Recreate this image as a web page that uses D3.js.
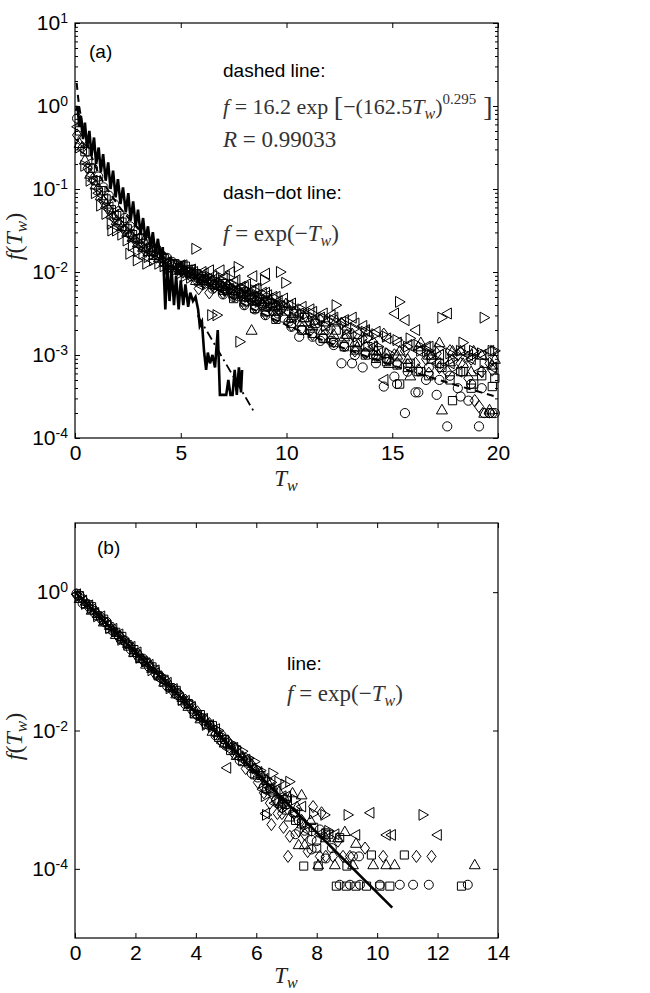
<!DOCTYPE html>
<html>
<head>
<meta charset="utf-8">
<script src="https://cdn.jsdelivr.net/npm/d3@7"></script>
<style>
body{margin:0;background:#fff;}
svg{display:block;}
</style>
</head>
<body>
<script>
// ---------- panel (a) : log10 f(Tw) ----------
var tA = [0.1,0.35,0.6,0.85,1.1,1.35,1.6,1.85,2.1,2.35,2.6,2.85,3.1,3.35,3.6,3.85,4.1,4.35,4.6,4.85,
  5.1,5.35,5.6,5.85,6.1,6.35,6.6,6.85,7.1,7.35,7.6,7.85,8.1,8.35,8.6,8.85,9.1,9.35,9.6,9.85,
  10.1,10.6,11.1,11.6,12.1,12.6,13.1,13.6,14.1,14.6,15.1,15.6,16.1,16.6,17.1,17.6,18.1,18.6,19.1,19.6];
var tB = [0.22,0.47,0.72,0.97,1.22,1.47,1.72,1.97,2.22,2.47,2.72,2.97,3.22,3.47,3.72,3.97,4.22,4.47,4.72,4.97,
  5.22,5.47,5.72,5.97,6.22,6.47,6.72,6.97,7.22,7.47,7.72,7.97,8.22,8.47,8.72,8.97,9.22,9.47,9.72,9.97,
  10.35,10.85,11.35,11.85,12.35,12.85,13.35,13.85,14.35,14.85,15.35,15.85,16.35,16.85,17.35,17.85,18.35,18.85,19.35,19.85];
var tC = [5.0,5.5,6.0,6.5,7.0,7.5,8.0,8.5,9.0,9.5,
  10.23,10.73,11.23,11.73,12.23,12.73,13.23,13.73,14.23,14.73,15.23,15.73,16.23,16.73,17.23,17.73,18.23,18.73,19.23,19.73];

var circA = [-0.15,-0.4,-0.55,-0.75,-0.85,-0.98,-1.08,-1.18,-1.3,-1.35,
  -1.45,-1.5,-1.6,-1.62,-1.7,-1.72,-1.8,-1.83,-1.88,-1.92,
  -1.97,-2.0,-2.02,-2.08,-2.1,-2.12,-2.15,-2.17,-2.2,-2.22,
  -2.26,-2.27,-2.3,-2.33,-2.35,-2.4,-2.42,-2.47,-2.5,-2.55,
  -2.6,-2.78,-2.7,-2.83,-2.83,-3.1,-3.1,-3.15,-3.0,-3.38,
  -3.26,-3.7,-3.45,-3.3,-3.48,-3.86,-3.4,-3.55,-3.86,-3.7];
var sqA = [-0.3,-0.55,-0.75,-0.9,-1.02,-1.12,-1.25,-1.32,-1.4,-1.48,
  -1.55,-1.6,-1.66,-1.72,-1.75,-1.8,-1.84,-1.9,-1.9,-1.95,
  -1.93,-1.97,-2.02,-2.05,-2.1,-2.12,-2.16,-2.14,-2.2,-2.22,
  -2.25,-2.24,-2.28,-2.3,-2.33,-2.36,-2.38,-2.42,-2.4,-2.47,
  -2.5,-2.55,-2.62,-2.65,-2.7,-2.75,-2.85,-2.9,-2.95,-3.05,
  -3.35,-3.1,-3.2,-3.05,-3.15,-3.55,-3.2,-3.35,-3.1,-3.28];
var diaA = [-0.35,-0.5,-0.75,-0.88,-1.0,-1.15,-1.25,-1.35,-1.42,-1.5,
  -1.55,-1.62,-1.68,-1.75,-1.78,-1.82,-1.86,-1.9,-1.93,-1.97,
  -2.0,-2.02,-2.05,-2.2,-2.12,-2.25,-2.18,-2.15,-2.22,-2.2,
  -2.25,-2.28,-2.25,-2.3,-2.33,-2.38,-2.35,-2.4,-2.45,-2.42,
  -2.48,-2.52,-2.6,-2.58,-2.68,-2.62,-2.75,-2.8,-2.85,-2.75,
  -3.0,-2.95,-3.1,-3.05,-2.98,-3.2,-3.0,-3.28,-3.62,-3.1];
var upA = [-0.45,-0.65,-0.82,-0.95,-1.08,-1.18,-1.3,-1.38,-1.45,-1.52,
  -1.58,-1.65,-1.7,-1.75,-1.8,-1.83,-1.88,-1.92,-1.95,-1.98,
  -2.0,-2.02,-2.1,-2.05,-2.08,-2.1,-2.13,-2.17,-2.15,-2.2,
  -2.23,-2.25,-2.27,-2.3,-2.32,-2.35,-2.33,-2.4,-2.42,-2.38,
  -2.48,-2.55,-2.58,-2.6,-2.58,-2.75,-2.9,-2.72,-3.0,-3.1,
  -2.95,-3.25,-2.85,-3.0,-3.66,-2.95,-3.1,-2.95,-3.7,-3.05];
var leftA = [-0.25,-0.52,-0.7,-0.9,-1.05,-1.12,-1.22,-1.32,-1.4,-1.47,
  -1.55,-1.6,-1.65,-1.7,-1.75,-1.78,-1.84,-1.88,-1.92,-1.95,
  -1.92,-1.98,-2.0,-2.15,-2.02,-1.98,-2.08,-1.98,-2.05,-2.0,
  -2.1,-2.18,-2.15,-2.22,-2.2,-2.25,-2.28,-2.3,-2.35,-2.32,
  -2.4,-2.5,-2.45,-2.55,-2.52,-2.6,-2.55,-2.65,-2.9,-3.3,
  -2.5,-2.58,-2.7,-2.9,-3.1,-2.5,-3.2,-3.0,-3.2,-2.95];
var rightA = [-0.5,-0.72,-0.9,-1.05,-1.2,-1.3,-1.42,-1.5,-1.55,-1.62,
  -1.68,-1.75,-1.78,-1.82,-1.86,-1.9,-1.93,-1.96,-1.98,-2.02,
  -2.05,-2.07,-1.72,-2.1,-2.15,-2.52,-2.52,-2.2,-2.22,-2.25,
  -1.94,-2.28,-2.3,-2.32,-2.36,-2.1,-2.4,-2.38,-2.0,-2.13,
  -2.55,-2.52,-2.6,-2.65,-2.4,-2.7,-2.78,-2.8,-2.9,-2.98,
  -2.36,-2.8,-2.95,-3.0,-2.55,-3.05,-2.85,-2.95,-2.55,-2.95];
// second pass of points for Tw >= 5 (on tC), the lower part of the cloud
var circC = [-1.98,-2.05,-2.12,-2.2,-2.27,-2.3,-2.4,-2.45,-2.52,-2.55,-2.66,-2.7,-2.78,-2.8,-2.88,
  -2.9,-3.0,-2.98,-3.1,-3.05,-3.35,-3.2,-3.45,-3.15,-3.3,-3.25,-3.5,-3.35,-3.4,-3.7];
var sqC = [-1.92,-2.0,-2.08,-2.15,-2.22,-2.32,-2.36,-2.44,-2.48,-2.57,-2.62,-2.7,-2.74,-2.8,-2.85,
  -2.9,-2.94,-3.0,-3.04,-3.08,-3.12,-3.15,-3.2,-3.25,-3.1,-3.3,-3.2,-3.4,-3.25,-3.38];
var diaC = [-1.95,-2.02,-2.1,-2.17,-2.25,-2.28,-2.38,-2.42,-2.5,-2.55,-2.64,-2.68,-2.75,-2.78,-2.84,
  -2.88,-2.95,-2.98,-3.02,-3.05,-3.1,-3.12,-3.18,-3.22,-3.15,-2.95,-3.1,-3.05,-3.2,-3.18];
var upC = [-1.97,-2.02,-2.07,-2.1,-2.17,-2.22,-2.3,-2.35,-2.42,-2.47,-2.55,-2.6,-2.65,-2.7,-2.75,
  -2.78,-2.85,-2.88,-2.95,-2.98,-3.0,-3.05,-2.9,-3.0,-2.85,-3.08,-2.95,-3.2,-3.0,-3.12];
var leftC = [-1.92,-1.97,-2.0,-2.05,-2.08,-2.12,-2.18,-2.2,-2.25,-2.3,-2.38,-2.42,-2.48,-2.5,-2.55,
  -2.58,-2.62,-2.7,-2.72,-2.8,-2.85,-2.88,-2.95,-2.9,-3.0,-3.1,-2.95,-3.05,-3.0,-3.15];
var rightC = [-1.94,-2.0,-2.03,-2.08,-2.1,-2.15,-2.2,-2.22,-2.28,-2.32,-2.4,-2.45,-2.5,-2.55,-2.58,
  -2.62,-2.68,-2.72,-2.75,-2.78,-2.82,-2.9,-2.88,-2.95,-2.92,-2.98,-2.95,-3.02,-2.98,-2.95];
// stray points [marker, Tw, log10 f]
var extraA = [["right",7.8,-2.84],["up",8.35,-2.7],["circle",19.35,-3.7],["circle",19.6,-3.7],
  ["circle",19.85,-3.7],["up",19.6,-3.66],["diamond",18.9,-3.55],["left",9.0,-2.02],["left",8.4,-2.05],
  ["right",1.75,-1.5],["right",2.6,-1.78],["right",2.95,-1.86],["right",3.4,-1.9]];

// jagged solid curve (Tw, log10 f)
var solidT = [0.05,0.12,0.2,0.28,0.38,0.47,0.57,0.68,0.78,0.9,1.0,1.12,1.22,1.33,1.45,1.57,1.68,1.8,1.92,2.03,
  2.15,2.27,2.4,2.52,2.63,2.75,2.87,2.98,3.1,3.22,3.33,3.45,3.57,3.68,3.8,3.92,4.05,4.15,4.27,4.37,
  4.47,4.57,4.68,4.78,4.9,5.0,5.12,5.22,5.35,5.45,5.58,5.7,5.82,5.9,6.0,6.1,6.2,6.28,6.38,6.5,
  6.62,6.75,6.85,7.0,7.15,7.25,7.35,7.45,7.55,7.65,7.75,7.85,7.9];
var solidV = [-0.05,0.0,-0.25,-0.12,-0.4,-0.2,-0.5,-0.3,-0.6,-0.38,-0.7,-0.5,-0.8,-0.58,-0.9,-0.68,-1.0,-0.78,-1.1,-0.88,
  -1.18,-0.98,-1.28,-1.05,-1.38,-1.15,-1.45,-1.25,-1.55,-1.35,-1.62,-1.45,-1.7,-1.52,-1.78,-1.6,-1.85,-1.7,-2.45,-1.9,
  -2.35,-1.98,-2.4,-2.05,-2.45,-2.1,-2.4,-2.15,-2.42,-2.25,-2.35,-2.3,-2.45,-2.65,-2.6,-2.95,-3.18,-2.97,-3.1,-3.0,
  -3.15,-2.7,-3.48,-3.48,-3.48,-3.3,-3.48,-3.48,-3.18,-3.48,-3.15,-3.45,-3.18];

// dashed fit curve and dash-dot exp(-Tw) line
var dashT = [0.08,0.15,0.3,0.5,1,1.5,2,3,5,7,10,14,17,20];
var dashF = [1.9,1.25,0.70,0.42,0.18,0.103,0.066,0.033,0.0118,0.0056,0.0023,0.00092,0.00052,0.00031];
var dashDotT = [5.8,8.45];
var dashDotF = [3.0e-3,2.1e-4];

// ---------- panel (b) ----------
var tBandA = [0.05,0.25,0.45,0.65,0.85,1.05,1.25,1.45,1.65,1.85,2.05,2.25,2.45,2.65,2.85,3.05,3.25,3.45,3.65,3.85,
  4.05,4.25,4.45,4.65,4.85,5.05,5.25,5.45,5.65,5.85,6.05,6.25,6.45,6.65,6.85];
var tBandB = [0.15,0.35,0.55,0.75,0.95,1.15,1.35,1.55,1.75,1.95,2.15,2.35,2.55,2.75,2.95,3.15,3.35,3.55,3.75,3.95,
  4.15,4.35,4.55,4.75,4.95,5.15,5.35,5.55,5.75,5.95,6.15,6.35,6.55,6.75,6.95];
var circB = [-0.02,-0.16,-0.18,-0.30,-0.36,-0.43,-0.56,-0.63,-0.70,-0.83,-0.88,-0.96,-1.08,-1.12,-1.24,-1.36,-1.39,-1.49,-1.62,-1.63,
  -1.78,-1.82,-1.93,-2.07,-2.07,-2.22,-2.23,-2.43,-2.43,-2.62,-2.68,-2.81,-2.84,-3.01,-3.12];
var sqB = [-0.05,-0.17,-0.21,-0.34,-0.39,-0.53,-0.58,-0.64,-0.78,-0.83,-0.96,-1.01,-1.08,-1.21,-1.26,-1.38,-1.42,-1.57,-1.61,-1.76,
  -1.77,-1.91,-1.93,-2.10,-2.13,-2.29,-2.28,-2.45,-2.47,-2.64,-2.65,-2.84,-2.89,-3.03,-3.07];
var diaB = [-0.04,-0.09,-0.22,-0.26,-0.39,-0.45,-0.52,-0.66,-0.71,-0.78,-0.92,-0.99,-1.04,-1.18,-1.22,-1.30,-1.44,-1.47,-1.56,-1.70,
  -1.73,-1.88,-1.90,-2.05,-2.16,-2.15,-2.33,-2.35,-2.55,-2.50,-2.75,-2.90,-3.05,-3.00,-3.20];
var upB = [-0.09,-0.13,-0.26,-0.31,-0.43,-0.48,-0.61,-0.66,-0.74,-0.87,-0.91,-1.04,-1.10,-1.17,-1.30,-1.35,-1.47,-1.52,-1.65,-1.69,
  -1.83,-1.86,-2.01,-2.03,-2.18,-2.20,-2.36,-2.37,-2.45,-2.55,-2.62,-2.72,-2.86,-2.88,-2.98];
var leftB = [-0.03,-0.12,-0.19,-0.30,-0.35,-0.48,-0.53,-0.61,-0.74,-0.79,-0.87,-1.00,-1.05,-1.13,-1.27,-1.31,-1.40,-1.53,-1.57,-1.66,
  -1.80,-1.83,-1.92,-1.98,-2.18,-2.26,-2.25,-2.40,-2.42,-2.55,-2.60,-2.70,-2.83,-2.85,-2.95];
var rightB = [-0.06,-0.17,-0.23,-0.35,-0.40,-0.52,-0.57,-0.69,-0.75,-0.86,-0.95,-1.00,-1.13,-1.18,-1.29,-1.39,-1.43,-1.56,-1.60,-1.74,
  -1.79,-1.92,-1.95,-2.00,-2.10,-2.18,-2.25,-2.30,-2.40,-2.45,-2.58,-2.70,-2.62,-2.74,-2.78];
// tail of panel (b) [marker, Tw, log10 f]
var tailB = [
  ["right",7.11,-2.74],["right",7.3,-3.0],["right",6.34,-3.22],["right",8.27,-3.22],["right",9.04,-3.22],["right",11.52,-3.22],["right",7.9,-3.2],
  ["right",6.0,-2.55],["right",6.5,-2.75],["right",7.0,-3.1],["right",7.6,-3.35],["right",8.4,-3.45],["right",6.3,-2.95],
  ["left",5.02,-2.54],["left",6.3,-3.2],["left",7.0,-2.95],["left",7.5,-3.1],["left",9.76,-3.19],["left",9.29,-3.51],["left",10.3,-3.51],
  ["left",10.47,-3.51],["left",11.99,-3.51],["left",8.1,-3.5],["left",8.3,-3.52],
  ["left",6.6,-3.05],["left",7.3,-3.2],["left",7.7,-3.45],["left",8.6,-3.5],["left",6.2,-2.85],
  ["up",7.2,-2.9],["up",7.5,-2.93],["up",7.6,-3.65],["up",8.05,-3.94],["up",8.93,-3.46],["up",9.3,-3.63],["up",9.87,-3.94],
  ["up",10.3,-3.94],["up",10.58,-3.94],["up",13.23,-3.94],["up",8.3,-3.55],["up",9.2,-3.94],["up",7.35,-3.1],
  ["up",6.8,-3.05],["up",7.1,-3.25],["up",7.8,-3.3],["up",8.7,-3.55],["up",7.4,-3.65],["up",8.6,-3.94],
  ["diamond",6.5,-3.36],["diamond",7.11,-3.53],["diamond",7.05,-3.82],["diamond",7.88,-3.1],["diamond",8.16,-3.19],["diamond",8.1,-3.82],
  ["diamond",8.3,-3.82],["diamond",8.54,-3.82],["diamond",8.87,-3.82],["diamond",9.1,-3.82],["diamond",10.2,-3.82],["diamond",11.3,-3.82],
  ["diamond",11.8,-3.82],["diamond",7.4,-3.45],["diamond",7.6,-3.5],
  ["diamond",6.7,-3.2],["diamond",7.25,-3.2],["diamond",7.5,-3.3],["diamond",7.7,-3.75],["diamond",8.7,-3.6],["diamond",9.6,-3.7],["diamond",6.9,-3.4],
  ["square",7.57,-3.96],["square",8.05,-3.96],["square",8.3,-3.48],["square",8.76,-3.55],["square",9.81,-3.8],["square",10.9,-3.8],
  ["square",8.65,-4.25],["square",8.98,-4.25],["square",9.3,-4.25],["square",9.65,-4.25],["square",10.09,-4.25],["square",10.42,-4.25],
  ["square",12.79,-4.25],["square",9.0,-3.96],["square",7.3,-3.3],
  ["square",7.0,-3.15],["square",7.5,-3.35],["square",7.9,-3.4],["square",8.4,-3.5],["square",8.0,-3.7],
  ["circle",7.22,-3.19],["circle",7.83,-3.58],["circle",7.83,-3.72],["circle",8.1,-3.43],["circle",8.3,-3.85],["circle",8.76,-4.23],
  ["circle",9.1,-4.23],["circle",9.43,-4.23],["circle",10.09,-4.23],["circle",10.75,-4.23],["circle",11.19,-4.23],["circle",11.71,-4.23],
  ["circle",13.0,-4.23],["circle",7.0,-3.0],["circle",9.2,-3.82],["circle",9.4,-3.82],
  ["circle",6.9,-3.05],["circle",7.4,-3.3],["circle",7.6,-3.45],["circle",8.0,-3.6],["circle",8.5,-3.7],["circle",7.3,-3.5]];
var lineBT = [0,10.5];
var lineBF = [1,2.75e-5];

var W = 650, H = 993;
var svg = d3.select("body").append("svg").attr("width", W).attr("height", H);
svg.append("rect").attr("width", W).attr("height", H).attr("fill", "#fff");

// marker outlines centred on 0,0
function shape(kind, s) {
  if (kind == "circle") return "M" + s + ",0A" + s + "," + s + " 0 1,1 " + (-s) + ",0A" + s + "," + s + " 0 1,1 " + s + ",0Z";
  if (kind == "square") { var q = s * 0.9; return "M" + (-q) + "," + (-q) + "H" + q + "V" + q + "H" + (-q) + "Z"; }
  if (kind == "diamond") return "M0," + (-s * 1.35) + "L" + s + ",0L0," + (s * 1.35) + "L" + (-s) + ",0Z";
  var a = s * 1.2, b = s * 0.9;
  if (kind == "up") return "M0," + (-a) + "L" + a + "," + b + "L" + (-a) + "," + b + "Z";
  if (kind == "left") return "M" + (-a) + ",0L" + b + "," + (-a) + "L" + b + "," + a + "Z";
  return "M" + a + ",0L" + (-b) + "," + (-a) + "L" + (-b) + "," + a + "Z";
}

// "10" with a small raised exponent
function supLabels(sel) {
  sel.selectAll(".tick text").each(function(d) {
    var t = d3.select(this), e = Math.round(Math.log10(d));
    t.append("tspan").text("10");
    t.append("tspan").attr("dy", "-0.5em").attr("font-size", "14px").text(e < 0 ? "-" + (-e) : e);
  });
}

function drawPanel(p) {
  var x = d3.scaleLinear().domain(p.xDom).range([75, 498]);
  var y = d3.scaleLog().domain(p.yDom).range([p.bottom, p.top]);
  var g = svg.append("g");

  // scatter
  p.series.forEach(function(s) {
    g.append("g").selectAll("path").data(d3.zip(s.t, s.v)).join("path")
      .attr("d", shape(s.kind, p.ms))
      .attr("transform", function(d) { return "translate(" + x(d[0]) + "," + y(Math.pow(10, d[1])) + ")"; })
      .attr("fill", "none").attr("stroke", "#000").attr("stroke-width", 1);
  });
  g.append("g").selectAll("path").data(p.extra).join("path")
    .attr("d", function(d) { return shape(d[0], p.ms); })
    .attr("transform", function(d) { return "translate(" + x(d[1]) + "," + y(Math.pow(10, d[2])) + ")"; })
    .attr("fill", "none").attr("stroke", "#000").attr("stroke-width", 1);

  // lines
  p.lines.forEach(function(l) {
    var ln = d3.line().x(function(d) { return x(d[0]); }).y(function(d) { return y(d[1]); });
    if (l.curve) ln.curve(l.curve);
    g.append("path").datum(d3.zip(l.t, l.f)).attr("d", ln)
      .attr("fill", "none").attr("stroke", "#000").attr("stroke-width", l.w)
      .attr("stroke-dasharray", l.dash || null).attr("stroke-linejoin", "miter");
  });

  // axes, ticks inside on all four sides
  var ax = svg.append("g").attr("font-family", "'Liberation Sans', Arial, sans-serif");
  var xb = ax.append("g").attr("transform", "translate(0," + p.bottom + ")")
    .call(d3.axisBottom(x).tickValues(p.xt).tickSizeInner(-5).tickSizeOuter(0).tickPadding(7));
  ax.append("g").attr("transform", "translate(0," + p.top + ")")
    .call(d3.axisTop(x).tickValues(p.xt).tickSizeInner(-5).tickSizeOuter(0).tickFormat(""));
  var yl = ax.append("g").attr("transform", "translate(75,0)")
    .call(d3.axisLeft(y).tickValues(p.yt).tickSizeInner(-5).tickSizeOuter(0).tickPadding(7).tickFormat(function() { return ""; }));
  ax.append("g").attr("transform", "translate(498,0)")
    .call(d3.axisRight(y).tickValues(p.yt).tickSizeInner(-5).tickSizeOuter(0).tickFormat(""));
  if (p.minor) {
    ax.append("g").attr("transform", "translate(75,0)")
      .call(d3.axisLeft(y).tickValues(p.minor).tickSizeInner(-3).tickSizeOuter(0).tickFormat(""));
    ax.append("g").attr("transform", "translate(498,0)")
      .call(d3.axisRight(y).tickValues(p.minor).tickSizeInner(-3).tickSizeOuter(0).tickFormat(""));
  }
  supLabels(yl);
  ax.selectAll(".domain").remove();
  ax.selectAll(".tick line").attr("stroke", "#000");
  ax.selectAll(".tick text").attr("font-size", "21px").attr("fill", "#000");
  xb.selectAll(".tick text").attr("dy", "0.72em");
  ax.append("rect").attr("x", 75).attr("y", p.top).attr("width", 423).attr("height", p.bottom - p.top)
    .attr("fill", "none").attr("stroke", "#000").attr("stroke-width", 1.2);

  // axis titles
  var serif = "'Liberation Serif', 'Times New Roman', serif";
  var xt = svg.append("text").attr("x", 286).attr("y", p.bottom + p.xlab).attr("text-anchor", "middle")
    .attr("font-family", serif).attr("font-size", "23px").attr("fill", "#222");
  xt.append("tspan").attr("font-style", "italic").text("T");
  xt.append("tspan").attr("font-style", "italic").attr("font-size", "16px").attr("dy", 5).text("w");
  var yt = svg.append("text").attr("transform", "translate(22," + ((p.top + p.bottom) / 2 + 6) + ") rotate(-90)")
    .attr("text-anchor", "middle").attr("font-family", serif).attr("font-size", "24px").attr("fill", "#222");
  yt.append("tspan").attr("font-style", "italic").text("f");
  yt.append("tspan").text("(");
  yt.append("tspan").attr("font-style", "italic").text("T");
  yt.append("tspan").attr("font-style", "italic").attr("font-size", "17px").attr("dy", 5).text("w");
  yt.append("tspan").attr("dy", -5).text(")");
}

function decades(lo, hi) { var a = []; for (var e = lo; e <= hi; e++) a.push(Math.pow(10, e)); return a; }
var minorA = [];
decades(-4, 0).forEach(function(d) { [2,3,4,5,6,7,8,9].forEach(function(m) { minorA.push(d * m); }); });

drawPanel({
  xDom: [0, 20], yDom: [1e-4, 1e1], top: 23, bottom: 438, ms: 4.6, xlab: 48,
  xt: [0, 5, 10, 15, 20], yt: decades(-4, 1), minor: minorA,
  series: [
    {kind: "circle", t: tA, v: circA}, {kind: "square", t: tB, v: sqA}, {kind: "diamond", t: tA, v: diaA},
    {kind: "up", t: tB, v: upA}, {kind: "left", t: tA, v: leftA}, {kind: "right", t: tB, v: rightA},
    {kind: "circle", t: tC, v: circC}, {kind: "square", t: tC, v: sqC}, {kind: "diamond", t: tC, v: diaC},
    {kind: "up", t: tC, v: upC}, {kind: "left", t: tC, v: leftC}, {kind: "right", t: tC, v: rightC}],
  extra: extraA,
  lines: [
    {t: solidT, f: solidV.map(function(v) { return Math.pow(10, v); }), w: 2.6},
    {t: dashT, f: dashF, w: 2, dash: "7,5", curve: d3.curveMonotoneX},
    {t: dashDotT, f: dashDotF, w: 1.8, dash: "9,4,2,4"}]
});

drawPanel({
  xDom: [0, 14], yDom: [1e-5, 1e1], top: 523, bottom: 938, ms: 4.5, xlab: 45,
  xt: [0, 2, 4, 6, 8, 10, 12, 14], yt: [1e-4, 1e-2, 1],
  series: [
    {kind: "circle", t: tBandA, v: circB}, {kind: "square", t: tBandB, v: sqB}, {kind: "diamond", t: tBandA, v: diaB},
    {kind: "up", t: tBandB, v: upB}, {kind: "left", t: tBandA, v: leftB}, {kind: "right", t: tBandB, v: rightB}],
  extra: tailB,
  lines: [{t: lineBT, f: lineBF, w: 2.6}]
});

// annotations
var sans = "'Liberation Sans', Arial, sans-serif", serifF = "'Liberation Serif', 'Times New Roman', serif";
function sansText(x, y, s) {
  svg.append("text").attr("x", x).attr("y", y).attr("font-family", sans).attr("font-size", "19px").attr("fill", "#000").text(s);
}
function expText(x, y) {
  var t = svg.append("text").attr("x", x).attr("y", y).attr("font-family", serifF).attr("font-size", "23px").attr("fill", "#333")
    .attr("xml:space", "preserve");
  t.append("tspan").attr("font-style", "italic").text("f");
  t.append("tspan").text(" = exp(\u2212");
  t.append("tspan").attr("font-style", "italic").text("T");
  t.append("tspan").attr("font-style", "italic").attr("font-size", "16px").attr("dy", 5).text("w");
  t.append("tspan").attr("dy", -5).text(")");
}
sansText(89, 58, "(a)");
sansText(223, 77, "dashed line:");
var fm = svg.append("text").attr("x", 223).attr("y", 114).attr("font-family", serifF).attr("font-size", "22px").attr("fill", "#333")
  .attr("xml:space", "preserve");
fm.append("tspan").attr("font-style", "italic").text("f");
fm.append("tspan").text(" = 16.2 exp ");
fm.append("tspan").attr("font-size", "28px").attr("dy", 2).text("[");
fm.append("tspan").attr("dy", -2).text("\u2212(162.5");
fm.append("tspan").attr("font-style", "italic").text("T");
fm.append("tspan").attr("font-style", "italic").attr("font-size", "16px").attr("dy", 5).text("w");
fm.append("tspan").attr("dy", -5).text(")");
fm.append("tspan").attr("font-size", "15px").attr("dy", -10).text("0.295");
fm.append("tspan").attr("font-size", "28px").attr("dy", 12).text(" ]");
var rt = svg.append("text").attr("x", 223).attr("y", 147).attr("font-family", serifF).attr("font-size", "23px").attr("fill", "#333")
  .attr("xml:space", "preserve");
rt.append("tspan").attr("font-style", "italic").text("R");
rt.append("tspan").text(" = 0.99033");
sansText(223, 199, "dash\u2212dot line:");
expText(223, 241);

sansText(97, 554, "(b)");
sansText(287, 670, "line:");
expText(287, 701);
</script>
</body>
</html>
